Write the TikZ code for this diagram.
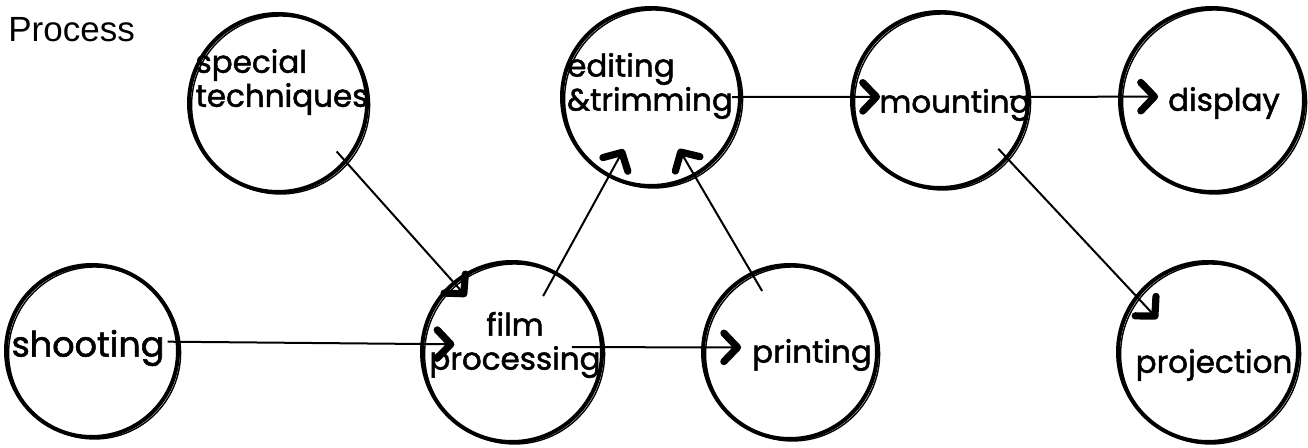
\documentclass[tikz,border=0pt]{standalone}
\usepackage{fontspec}
\setmainfont{Liberation Sans}
\newfontfamily\handfont[FakeBold=1.6]{Poppins}
\usetikzlibrary{arrows.meta,positioning}

\begin{document}
\begin{tikzpicture}[
    x=0.5pt, y=-0.5pt,
    stage/.style={circle, draw, line width=2pt, inner sep=0pt, minimum size=#1,
        preaction={draw, line width=0.7pt, transform canvas={shift={(1.3pt,-1pt)}}}},
    stage/.default=88pt,
    word/.style={align=left, inner sep=0pt, font=\handfont\fontsize{15.5}{17}\selectfont},
    flow/.style={-{Straight Barb[length=2.4mm,width=5mm,line width=3.6pt,round]}, line width=1pt}
]
\useasboundingbox (0,0) rectangle (1308,448);
\node[anchor=base west, inner sep=0pt, font=\fontsize{17.5}{20}\selectfont] (title) at (8,42) {Process};

% stages
\node[stage=86pt] (shoot) at (92,351) {};
\node[stage=90pt] (film) at (512,352) {};
\node[stage=87pt] (print) at (790,352) {};
\node[stage=89pt] (tech) at (278,103) {};
\node[stage=89pt] (edit) at (651,97) {};
\node[stage=88pt] (mount) at (940,100) {};
\node[stage=92pt] (disp) at (1212,100) {};
\node[stage=90pt] (proj) at (1208,352) {};

% labels
\node[word, font=\handfont\fontsize{17.5}{19}\selectfont] (shoot-t) at (88,348) {shooting};
\node[word, align=center] (film-t) at (515,345) {film\\processing};
\node[word] (print-t) at (812,355) {printing};
\node[word] (tech-t) at (282,82) {special\\techniques};
\node[word] (edit-t) at (650,86) {editing\\\&trimming};
\node[word] (mount-t) at (955,105) {mounting};
\node[word] (disp-t) at (1224,103) {display};
\node[word] (proj-t) at (1214,365) {projection};

% connectors
\draw[flow, shorten <=-6pt, shorten >=-17pt] (shoot.6) -- (film.175);
\draw[flow, shorten <=-16pt, shorten >=-20pt] (film.3) -- (print.177);
\draw[flow, shorten <=-7.5pt, shorten >=-10pt] (tech.-41) -- (film.130);
\draw[flow, shorten <=-14pt, shorten >=-16pt] (film.61) -- (edit.-118);
\draw[flow, shorten <=-11pt, shorten >=-16pt] (print.116) -- (edit.-61);
\draw[flow, shorten <=-5pt, shorten >=-15pt] (edit.0) -- (mount.178);
\draw[flow, shorten <=-10pt, shorten >=-20pt] (mount.2) -- (disp.178);
\draw[flow, shorten <=-7pt, shorten >=-16pt] (mount.-41) -- (proj.142);
\end{tikzpicture}
\end{document}
